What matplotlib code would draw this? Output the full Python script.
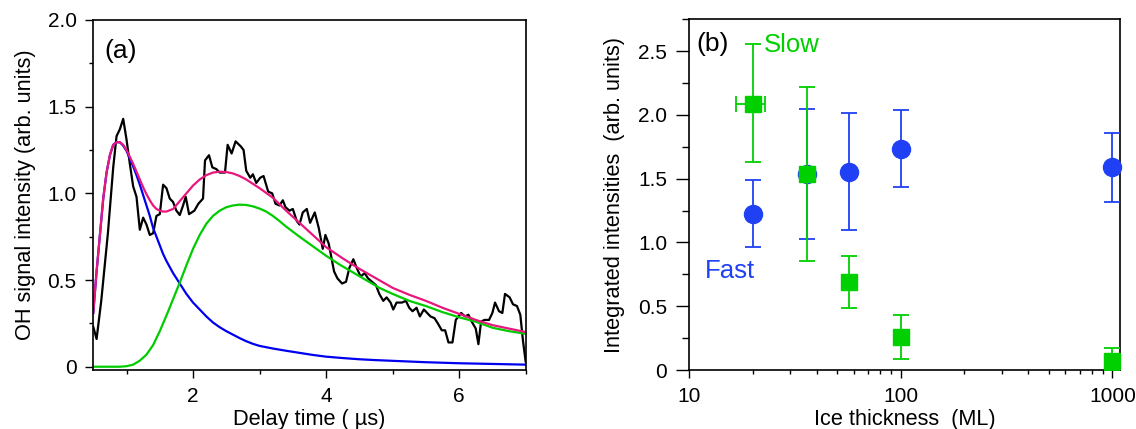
import numpy as np
import matplotlib
matplotlib.use('Agg')
import matplotlib.pyplot as plt
from matplotlib.ticker import MultipleLocator, FixedLocator, FuncFormatter, LogLocator, NullFormatter

plt.rcParams['font.family'] = ['Liberation Sans', 'DejaVu Sans']

# ---- panel (a): OH signal vs delay time ----
t_data = [0.50, 0.55, 0.62, 0.72, 0.80, 0.85, 0.90, 0.95, 1.00, 1.05, 1.10, 1.15, 1.20, 1.25, 1.30,
          1.35, 1.40, 1.45, 1.50, 1.55, 1.60, 1.65, 1.70, 1.75, 1.80, 1.85, 1.89, 1.94, 2.02, 2.08,
          2.15, 2.18, 2.24, 2.29, 2.35, 2.40, 2.48, 2.52, 2.58, 2.64, 2.72, 2.76, 2.80, 2.86, 2.90,
          2.95, 3.01, 3.06, 3.13, 3.19, 3.24, 3.30, 3.35, 3.39, 3.45, 3.50, 3.56, 3.60, 3.65, 3.71,
          3.76, 3.83, 3.89, 3.95, 3.99, 4.04, 4.12, 4.17, 4.24, 4.30, 4.35, 4.41, 4.46, 4.52, 4.58,
          4.63, 4.69, 4.75, 4.80, 4.86, 4.91, 4.97, 5.01, 5.06, 5.14, 5.20, 5.25, 5.30, 5.36, 5.41,
          5.47, 5.52, 5.57, 5.63, 5.68, 5.74, 5.79, 5.84, 5.90, 5.95, 6.03, 6.09, 6.14, 6.19, 6.25,
          6.29, 6.33, 6.38, 6.45, 6.50, 6.54, 6.60, 6.65, 6.69, 6.76, 6.81, 6.87, 6.92, 6.96, 7.00]
oh_signal = [0.23, 0.16, 0.38, 0.77, 1.15, 1.33, 1.37, 1.43, 1.31, 1.17, 1.04, 0.98, 0.79, 0.86, 0.82,
             0.76, 0.77, 0.87, 0.88, 1.05, 1.03, 0.97, 0.95, 0.90, 0.875, 0.93, 0.98, 0.88, 0.90, 0.94,
             0.97, 1.19, 1.22, 1.15, 1.14, 1.12, 1.12, 1.28, 1.23, 1.30, 1.27, 1.25, 1.13, 1.09, 1.11,
             1.06, 1.09, 1.10, 1.01, 1.00, 0.94, 0.93, 0.96, 0.92, 0.90, 0.91, 0.84, 0.82, 0.89, 0.91,
             0.83, 0.89, 0.80, 0.68, 0.76, 0.71, 0.55, 0.51, 0.48, 0.49, 0.57, 0.62, 0.57, 0.52, 0.54,
             0.51, 0.49, 0.47, 0.42, 0.38, 0.40, 0.37, 0.33, 0.37, 0.37, 0.38, 0.34, 0.32, 0.34, 0.29,
             0.33, 0.31, 0.29, 0.28, 0.25, 0.21, 0.21, 0.14, 0.14, 0.27, 0.31, 0.29, 0.30, 0.26, 0.22,
             0.13, 0.26, 0.27, 0.27, 0.31, 0.37, 0.32, 0.31, 0.42, 0.40, 0.36, 0.35, 0.30, 0.15, 0.03]

# fitted fast component (blue)
t_fast = [0.50, 0.55, 0.60, 0.65, 0.70, 0.75, 0.80, 0.85, 0.90, 0.95, 1.00, 1.05, 1.10, 1.15,
          1.20, 1.25, 1.30, 1.35, 1.40, 1.45, 1.50, 1.55, 1.60, 1.70, 1.80, 1.90, 2.00, 2.10,
          2.20, 2.30, 2.40, 2.50, 2.60, 2.70, 2.80, 2.90, 3.00, 3.20, 3.40, 3.60, 3.80, 4.00,
          4.25, 4.50, 4.75, 5.00, 5.50, 6.00, 6.50, 7.00]
fast = [0.31, 0.55, 0.76, 0.97, 1.12, 1.22, 1.28, 1.295, 1.295, 1.275, 1.245, 1.20, 1.155, 1.105,
        1.05, 0.99, 0.93, 0.87, 0.80, 0.75, 0.70, 0.65, 0.61, 0.54, 0.48, 0.42, 0.37, 0.33,
        0.29, 0.255, 0.228, 0.205, 0.185, 0.165, 0.147, 0.132, 0.12, 0.105, 0.092, 0.08, 0.068, 0.058,
        0.05, 0.043, 0.038, 0.034, 0.026, 0.02, 0.016, 0.012]

# fitted slow component (green)
t_slow = [0.50, 0.90, 1.00, 1.10, 1.20, 1.30, 1.40, 1.50, 1.60, 1.70, 1.80, 1.90, 2.00, 2.10,
          2.20, 2.30, 2.40, 2.50, 2.60, 2.70, 2.80, 2.90, 3.00, 3.10, 3.20, 3.30, 3.40, 3.60,
          3.80, 4.00, 4.20, 4.40, 4.60, 4.80, 5.00, 5.25, 5.50, 5.75, 6.00, 6.25, 6.50, 6.75, 7.00]
slow = [0.0, 0.0, 0.003, 0.012, 0.035, 0.07, 0.125, 0.205, 0.295, 0.39, 0.485, 0.585, 0.68, 0.76,
        0.825, 0.87, 0.90, 0.92, 0.93, 0.935, 0.933, 0.925, 0.912, 0.895, 0.87, 0.84, 0.808, 0.75,
        0.695, 0.64, 0.59, 0.545, 0.50, 0.455, 0.42, 0.38, 0.35, 0.315, 0.285, 0.26, 0.225, 0.205, 0.19]

# sum of both components (pink)
t_sum = [0.50, 0.55, 0.60, 0.65, 0.70, 0.75, 0.80, 0.85, 0.90, 0.95, 1.00, 1.05, 1.10, 1.15,
         1.20, 1.25, 1.30, 1.35, 1.40, 1.45, 1.50, 1.55, 1.60, 1.70, 1.80, 1.90, 2.00, 2.10,
         2.20, 2.30, 2.40, 2.50, 2.60, 2.70, 2.80, 2.90, 3.00, 3.20, 3.40, 3.60, 3.80, 4.00,
         4.25, 4.50, 4.75, 5.00, 5.25, 5.50, 5.75, 6.00, 6.25, 6.50, 6.75, 7.00]
total = [0.31, 0.55, 0.76, 0.97, 1.12, 1.22, 1.28, 1.295, 1.295, 1.28, 1.25, 1.21, 1.17, 1.125,
         1.08, 1.035, 0.995, 0.96, 0.93, 0.91, 0.90, 0.895, 0.895, 0.91, 0.955, 1.00, 1.045, 1.08,
         1.105, 1.12, 1.125, 1.123, 1.115, 1.10, 1.08, 1.055, 1.03, 0.975, 0.90, 0.83, 0.76, 0.69,
         0.625, 0.565, 0.51, 0.455, 0.415, 0.38, 0.34, 0.305, 0.27, 0.24, 0.22, 0.20]

# ---- panel (b): integrated intensities vs ice thickness ----
thickness = [20, 36, 57, 100, 1000]
fast_int = [1.225, 1.534, 1.555, 1.730, 1.592]
fast_lo = [0.963, 1.026, 1.094, 1.432, 1.317]
fast_hi = [1.487, 2.047, 2.018, 2.039, 1.861]
slow_int = [2.086, 1.534, 0.688, 0.257, 0.073]
slow_lo = [1.634, 0.851, 0.484, 0.084, 0.0]
slow_hi = [2.558, 2.223, 0.893, 0.432, 0.170]
slow_x_lo = [16.6, 36, 57, 100, 1000]
slow_x_hi = [22.7, 36, 57, 100, 1000]

blue_line = '#0000f0'
green_line = '#00cc00'
pink_line = '#e8177d'
blue_pt = '#2040f5'
green_pt = '#00d000'

fig = plt.figure(figsize=(11.36, 4.29), dpi=100)
ax1 = fig.add_axes([0.0821, 0.1375, 0.3806, 0.8159])
ax2 = fig.add_axes([0.6068, 0.1375, 0.3791, 0.8175])

ax1.plot(t_data, oh_signal, color='black', lw=1.6)
ax1.plot(t_fast, fast, color=blue_line, lw=1.6)
ax1.plot(t_slow, slow, color=green_line, lw=1.6)
ax1.plot(t_sum, total, color=pink_line, lw=1.6)
ax1.set_xlim(0.5, 7.0)
ax1.set_ylim(-0.019, 2.0)
ax1.xaxis.set_major_locator(FixedLocator([2, 4, 6]))
ax1.xaxis.set_minor_locator(FixedLocator([1, 3, 5, 7]))
ax1.yaxis.set_major_locator(MultipleLocator(0.5))
ax1.yaxis.set_minor_locator(MultipleLocator(0.25))
ax1.set_xlabel('Delay time ( µs)', fontsize=15.7, labelpad=2.5)
ax1.set_ylabel('OH signal intensity (arb. units)', fontsize=15.7, labelpad=8.5)
ax1.text(0.66, 1.82, '(a)', fontsize=19, va='center')

fmt = FuncFormatter(lambda v, p: '0' if abs(v) < 1e-9 else f'{v:.1f}')
ax1.yaxis.set_major_formatter(fmt)

yerr_fast = [np.array(fast_int) - np.array(fast_lo), np.array(fast_hi) - np.array(fast_int)]
yerr_slow = [np.array(slow_int) - np.array(slow_lo), np.array(slow_hi) - np.array(slow_int)]
xerr_slow = [np.array(thickness) - np.array(slow_x_lo), np.array(slow_x_hi) - np.array(thickness)]

ax2.errorbar(thickness, fast_int, yerr=yerr_fast, fmt='o', color=blue_pt, ms=13,
             elinewidth=1.3, capsize=5.5, capthick=1.3, clip_on=False, zorder=3)
ax2.errorbar(thickness, slow_int, yerr=yerr_slow, xerr=xerr_slow, fmt='s', color=green_pt, ms=11,
             elinewidth=1.3, capsize=5.5, capthick=1.3, clip_on=False, zorder=4)
ax2.set_xscale('log')
ax2.set_xlim(10, 1087)
ax2.set_ylim(0, 2.75)
ax2.xaxis.set_major_locator(FixedLocator([10, 100, 1000]))
ax2.xaxis.set_major_formatter(FuncFormatter(lambda v, p: f'{int(v)}'))
ax2.xaxis.set_minor_locator(LogLocator(base=10, subs=np.arange(2, 10)))
ax2.xaxis.set_minor_formatter(NullFormatter())
ax2.yaxis.set_major_locator(MultipleLocator(0.5))
ax2.yaxis.set_minor_locator(MultipleLocator(0.25))
ax2.yaxis.set_major_formatter(fmt)
ax2.set_xlabel('Ice thickness  (ML)', fontsize=15.7, labelpad=2.5)
ax2.set_ylabel('Integrated intensities  (arb. units)', fontsize=15.7, labelpad=9.5)
ax2.text(10.8, 2.56, '(b)', fontsize=19, va='center')
ax2.text(22.5, 2.55, 'Slow', fontsize=18.5, color=green_pt, va='center')
ax2.text(11.8, 0.78, 'Fast', fontsize=18.5, color=blue_pt, va='center')

for ax in (ax1, ax2):
    for s in ax.spines.values():
        s.set_linewidth(1.2)
    ax.tick_params(which='major', direction='out', length=5.5, width=1.0, labelsize=15,
                   top=False, right=False)
    ax.tick_params(which='minor', direction='out', length=3, width=1.0, top=False, right=False)
    ax.tick_params(axis='x', which='major', pad=6.5)
    ax.tick_params(axis='y', which='major', pad=6.5)

# longer y ticks on the right panel
ax2.tick_params(axis='y', which='major', length=9.4)
ax2.tick_params(axis='y', which='minor', length=4.7)

fig.savefig('out.png', dpi=100)
